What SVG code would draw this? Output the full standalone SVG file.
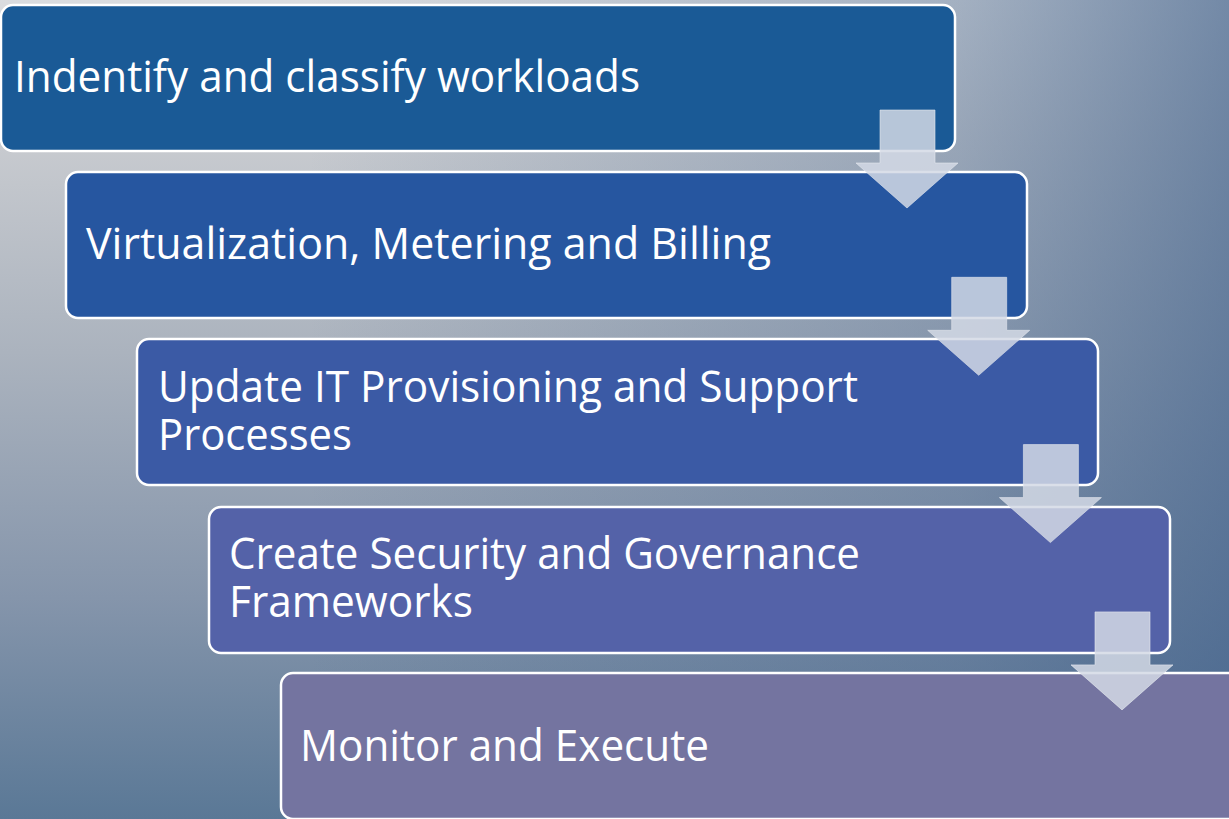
<svg xmlns="http://www.w3.org/2000/svg" width="1229" height="819" viewBox="0 0 1229 819">
<defs>
<linearGradient id="bgv" gradientUnits="userSpaceOnUse" x1="0" y1="0" x2="0" y2="819">
<stop offset="0" stop-color="#dadcdf"/>
<stop offset="0.18" stop-color="#c7cacf"/>
<stop offset="0.43" stop-color="#abb3be"/>
<stop offset="0.73" stop-color="#8595ab"/>
<stop offset="1" stop-color="#5a7896"/>
</linearGradient>
<linearGradient id="bgh" gradientUnits="userSpaceOnUse" x1="0" y1="0" x2="1229" y2="0">
<stop offset="0" stop-color="#3e5f8a" stop-opacity="0"/>
<stop offset="0.25" stop-color="#3e5f8a" stop-opacity="0"/>
<stop offset="0.78" stop-color="#3e5f8a" stop-opacity="0.35"/>
<stop offset="1" stop-color="#3e5f8a" stop-opacity="0.66"/>
</linearGradient>
<path id="arrow" d="M880 110 H935 V163 H958 L907 208 L856 163 H880 Z"/>
</defs>
<style>
.box{stroke:#ffffff;stroke-width:2.5}
.lbl{font-family:"Open Sans",Lato,"Liberation Sans",sans-serif;font-size:44px;fill:#ffffff}
.arr{fill:#d3d9e5;fill-opacity:0.85;stroke:#e4e8ef;stroke-opacity:0.6;stroke-width:1}
</style>
<rect x="0" y="0" width="1229" height="819" fill="url(#bgv)"/>
<rect x="0" y="0" width="1229" height="819" fill="url(#bgh)"/>
<g id="node1">
<rect class="box" x="1" y="5" width="954" height="146" rx="12" fill="#1a5a96"/>
<text class="lbl" x="14" y="92" textLength="626" lengthAdjust="spacingAndGlyphs">Indentify and classify workloads</text>
</g>
<g id="node2">
<rect class="box" x="66" y="172" width="961" height="146" rx="12" fill="#2656a0"/>
<text class="lbl" x="86" y="259" textLength="685" lengthAdjust="spacingAndGlyphs">Virtualization, Metering and Billing</text>
</g>
<g id="node3">
<rect class="box" x="137" y="339" width="961" height="146" rx="12" fill="#3b5aa5"/>
<text class="lbl"><tspan x="158" y="402" textLength="700" lengthAdjust="spacingAndGlyphs">Update IT Provisioning and Support</tspan><tspan x="158" y="450" textLength="194" lengthAdjust="spacingAndGlyphs">Processes</tspan></text>
</g>
<g id="node4">
<rect class="box" x="209" y="507" width="961" height="146" rx="12" fill="#5462a8"/>
<text class="lbl"><tspan x="229" y="569" textLength="631" lengthAdjust="spacingAndGlyphs">Create Security and Governance</tspan><tspan x="229" y="617" textLength="244" lengthAdjust="spacingAndGlyphs">Frameworks</tspan></text>
</g>
<g id="node5">
<rect class="box" x="281" y="673" width="961" height="146" rx="12" fill="#7474a0"/>
<text class="lbl" x="300" y="761" textLength="409" lengthAdjust="spacingAndGlyphs">Monitor and Execute</text>
</g>
<g id="connectors">
<use href="#arrow" class="arr"/>
<use href="#arrow" class="arr" transform="translate(71.7 167.3)"/>
<use href="#arrow" class="arr" transform="translate(143.4 334.6)"/>
<use href="#arrow" class="arr" transform="translate(215 501.9)"/>
</g>
</svg>
